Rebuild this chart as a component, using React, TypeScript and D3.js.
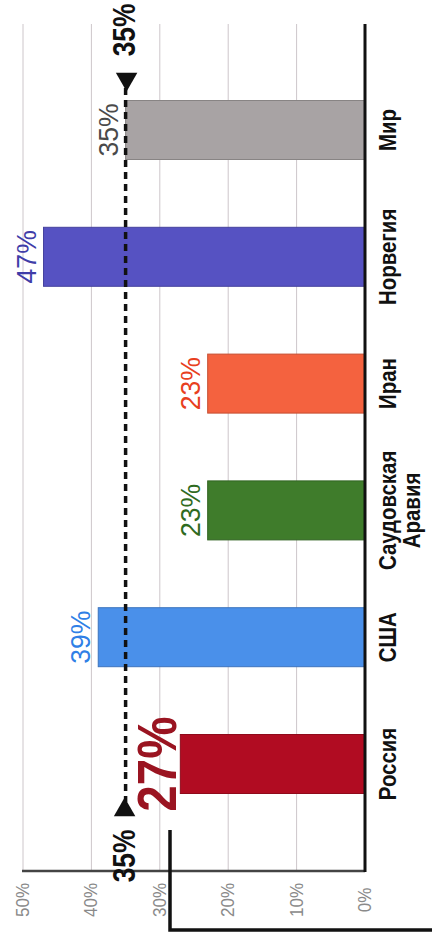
import * as React from 'react';
import * as d3 from 'd3';

// categories listed top to bottom as they appear in the (rotated) picture
const categories = ['Мир', 'Норвегия', 'Иран', 'Саудовская\nАравия', 'США', 'Россия'];
const values = [35, 47, 23, 23, 39, 27];
const barColors = ['#a8a3a4', '#5652c2', '#f4623f', '#3f7c2b', '#4a90ea', '#b10c22'];
const labelColors = ['#4a4a4a', '#3f3da8', '#e8401e', '#2f6b1f', '#2f7fe6', '#9a1421'];
const highlight = 'Россия';
const averageValue = 35;
const tickValues = [0, 10, 20, 30, 40, 50];

const FONT = '"Liberation Sans", Arial, sans-serif';

// rotated text, squeezed along its run to look like a condensed face
const rot = (x: number, y: number, sx = 1) => `translate(${x},${y}) rotate(-90) scale(${sx},1)`;

export default function App() {
    const width = 432;
    const height = 936;

    const x = d3.scaleLinear().domain([0, 50]).range([365, 23]);
    const y = d3.scalePoint<string>().domain(categories).range([130, 764]);
    const barW = 59;
    const top = 24;
    const axisY = 871;

    const tri = d3.symbol().type(d3.symbolTriangle).size(200)() || undefined;
    const avgX = x(averageValue);

    return (
        <svg width={width} height={height} style={{ position: 'absolute', left: 0, top: 0, background: '#fff' }}
            fontFamily={FONT}>
            {/* gridlines */}
            {tickValues.filter(t => t > 0).map(t => (
                <line key={t} x1={x(t)} x2={x(t)} y1={top} y2={axisY} stroke="#cdc6ca" strokeWidth={1} />
            ))}

            {/* bars */}
            {categories.map((c, i) => (
                <rect key={c} x={x(values[i])} y={(y(c) as number) - barW / 2}
                    width={x(0) - x(values[i])} height={barW}
                    fill={barColors[i]} stroke={d3.color(barColors[i])!.darker(0.6).toString()} strokeWidth={1} />
            ))}

            {/* value labels */}
            {categories.map((c, i) => {
                const big = c === highlight;
                const bx = x(values[i]) - (big ? 4 : 8);
                return (
                    <text key={c} transform={rot(bx, y(c) as number, big ? 0.85 : 0.95)} textAnchor="middle"
                        fill={labelColors[i]} fontSize={big ? 56 : 28} fontWeight={big ? 'bold' : 'normal'}>
                        {values[i]}%
                    </text>
                );
            })}

            {/* average dashed line */}
            <line x1={avgX} x2={avgX} y1={88} y2={802} stroke="#111" strokeWidth={3.5} strokeDasharray="7,5" />
            <path d={tri} transform={`translate(${avgX + 1},${79}) rotate(180)`} fill="#111" />
            <path d={tri} transform={`translate(${avgX - 1},${810})`} fill="#111" />
            <text transform={rot(avgX + 9, 30, 0.85)} textAnchor="middle" fontSize={31}
                fontWeight="bold" fill="#111">{averageValue}%</text>

            {/* axes */}
            <line x1={x(50) - 1} x2={x(0)} y1={axisY} y2={axisY} stroke="#444" strokeWidth={2.5} />
            <line x1={x(0)} x2={x(0)} y1={top} y2={axisY + 1} stroke="#111" strokeWidth={3} />
            {tickValues.map(t => (
                <text key={t} transform={rot(x(t) + 6, 900, 0.95)} textAnchor="middle"
                    fontSize={18} fill="#8a8a8a">{t}%</text>
            ))}

            <text transform={rot(avgX + 9, 856, 0.85)} textAnchor="middle" fontSize={31}
                fontWeight="bold" fill="#111">{averageValue}%</text>

            {/* category labels */}
            {categories.map(c => {
                const lines = c.split('\n');
                return (
                    <text key={c} transform={rot(396, y(c) as number, 0.85)} textAnchor="middle"
                        fontSize={24} fontWeight="bold" fill="#111">
                        {lines.map((l, k) => (
                            <tspan key={k} x={0} dy={k === 0 ? 0 : 24}>{l}</tspan>
                        ))}
                    </text>
                );
            })}

            {/* bracket */}
            <path d="M170,830 V930 H432" fill="none" stroke="#111" strokeWidth={3.5} />
        </svg>
    );
}
